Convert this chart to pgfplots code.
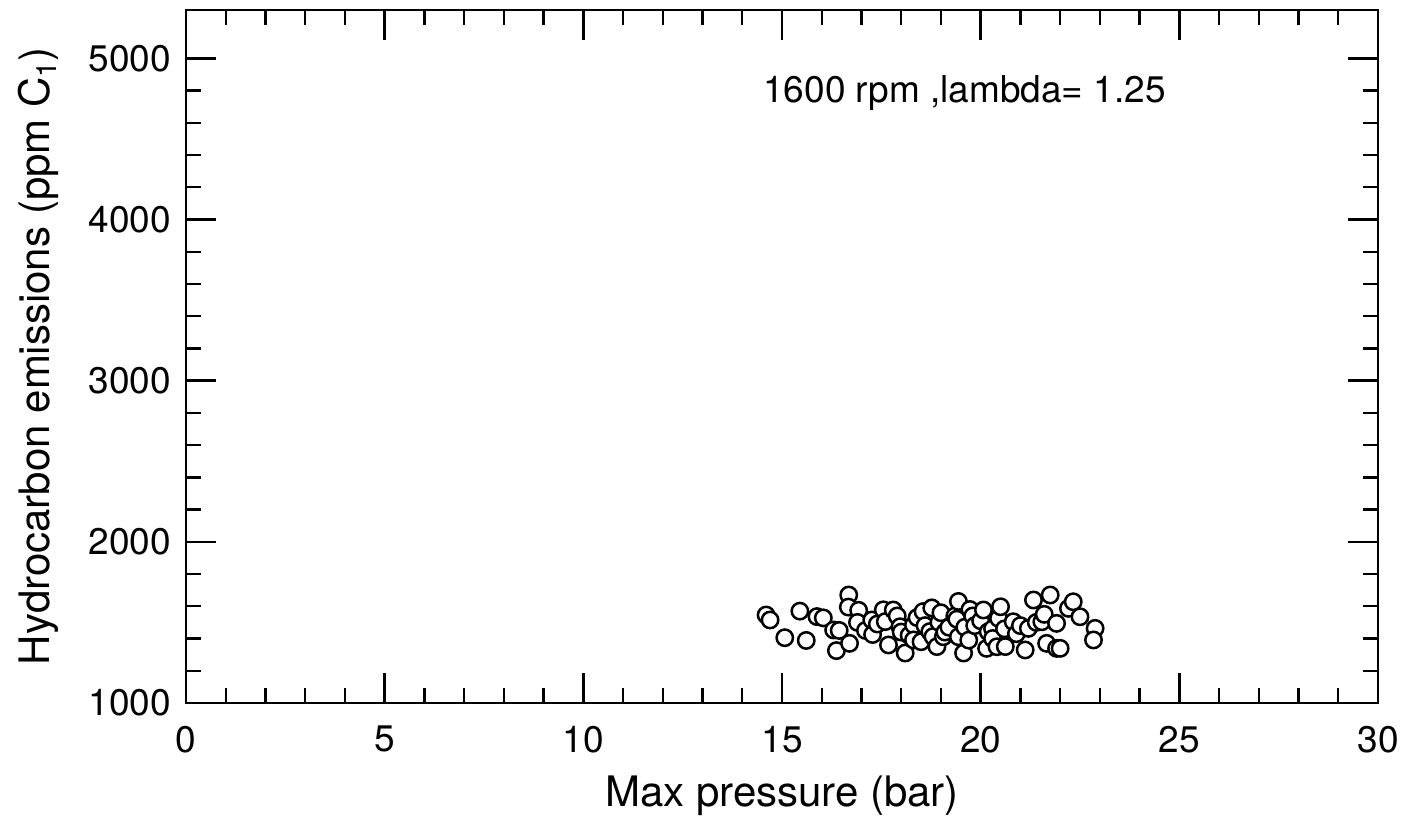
\documentclass[border=0pt]{standalone}
\usepackage{pgfplots}
\pgfplotsset{compat=1.18}
\usepackage{fontspec}
\setmainfont{TeX Gyre Heros}
\begin{document}
\begin{tikzpicture}
\begin{axis}[
  scale only axis,
  width=596pt, height=346.5pt,
  xmin=0, xmax=30, ymin=1000, ymax=5300,
  xtick={0,5,...,30}, ytick={1000,2000,3000,4000,5000},
  minor x tick num=4, minor y tick num=4,
  tick align=inside,
  xtick pos=both, ytick pos=both,
  xticklabel pos=left, yticklabel pos=left,
  major tick length=15pt, minor tick length=7.5pt,
  axis line style={line width=1.3pt},
  every tick/.style={black, line width=1.2pt},
  /pgf/number format/assume math mode=true,
  /pgf/number format/set thousands separator={},
  tick label style={font=\fontsize{18.5}{20}\selectfont},
  xticklabel style={yshift=-8pt},
  yticklabel style={xshift=-4pt},
  xlabel={Max pressure (bar)},
  ylabel={Hydrocarbon emissions (ppm C\raisebox{-0.3ex}{\fontsize{14}{14}\selectfont 1})},
  label style={font=\fontsize{21}{24}\selectfont},
  xlabel style={at={(axis description cs:0.5,0)}, anchor=north, yshift=-33pt},
  ylabel style={at={(axis description cs:0,0.5)}, anchor=south, yshift=60pt},
  clip=false,
]
\addplot[only marks, mark=*, mark size=4.1pt, mark options={fill=white, draw=black, line width=1.25pt}] table {
x y
14.60 1546
14.70 1515
15.07 1405
15.45 1570
15.61 1388
15.88 1536
16.04 1528
16.30 1453
16.44 1450
16.37 1325
16.70 1370
16.68 1670
16.67 1595
16.93 1575
16.90 1500
17.10 1450
17.28 1425
17.26 1515
17.40 1490
17.55 1578
17.60 1505
17.68 1360
17.80 1577
17.90 1540
17.97 1473
18.00 1440
18.10 1310
18.20 1420
18.31 1484
18.31 1391
18.40 1530
18.50 1380
18.55 1567
18.60 1480
18.72 1443
18.77 1590
18.80 1412
18.90 1350
18.95 1500
19.00 1560
19.06 1411
19.10 1440
19.20 1470
19.35 1540
19.40 1520
19.44 1630
19.44 1411
19.57 1310
19.60 1470
19.70 1390
19.73 1580
19.80 1540
19.85 1480
20.00 1510
20.07 1577
20.19 1442
20.15 1339
20.30 1460
20.30 1400
20.45 1525
20.41 1349
20.50 1597
20.60 1460
20.62 1350
20.82 1504
20.90 1430
21.00 1480
21.12 1329
21.20 1463
21.33 1639
21.40 1500
21.54 1504
21.60 1550
21.66 1370
21.75 1670
21.91 1494
21.91 1339
22.00 1339
22.21 1587
22.33 1628
22.50 1535
22.88 1463
22.84 1391
};
\node[anchor=west, font=\fontsize{18.5}{20}\selectfont, inner sep=0pt] at (axis cs:14.52,4784) {1600 rpm ,lambda= 1.25};
\end{axis}
\pgfresetboundingbox
\path[use as bounding box] ([shift={(-93pt,-61pt)}]current axis.south west) rectangle ([shift={(18pt,5pt)}]current axis.north east);
\end{tikzpicture}
\end{document}
